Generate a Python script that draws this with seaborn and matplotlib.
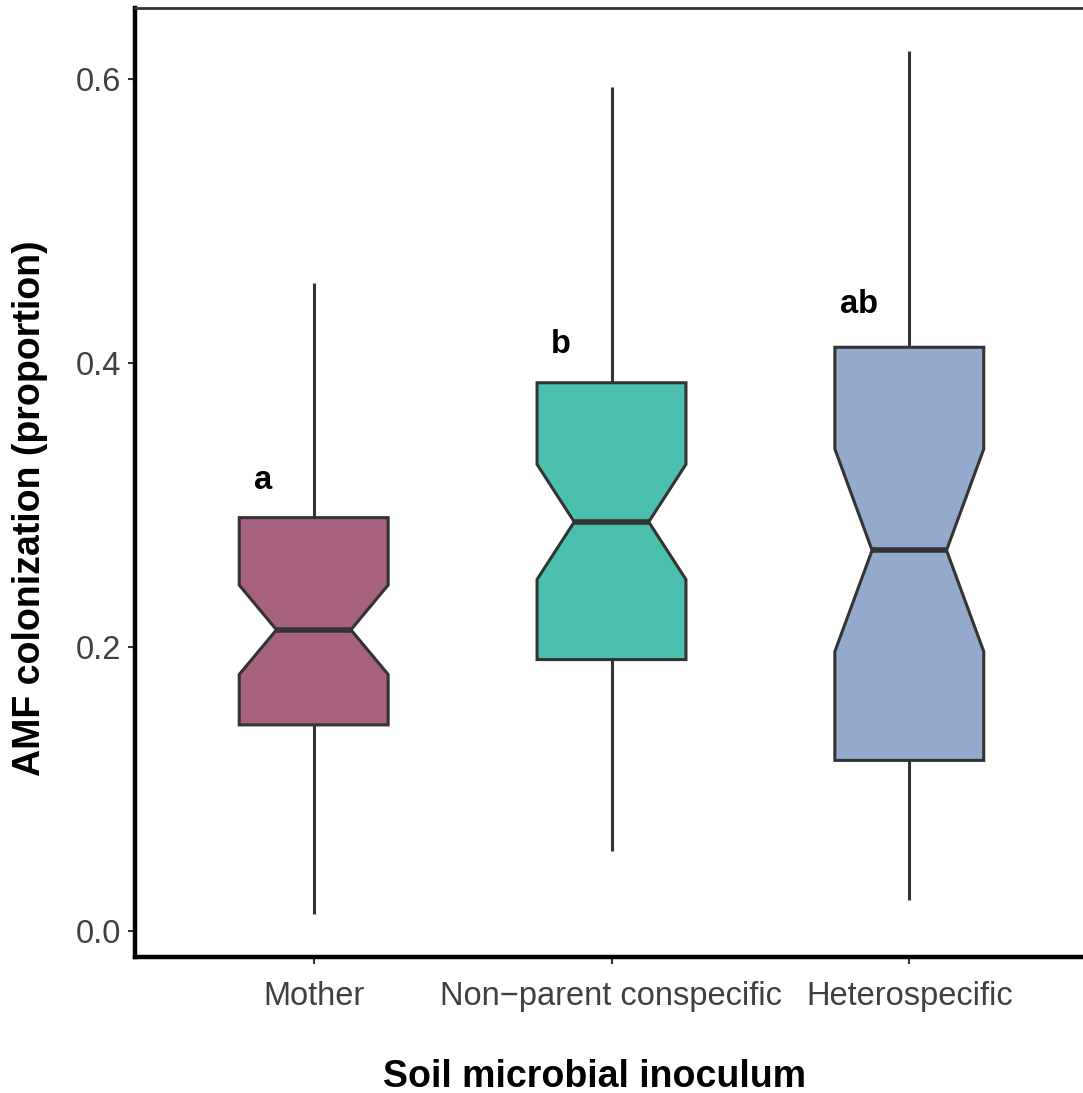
import numpy as np
import pandas as pd
import matplotlib
matplotlib.use("Agg")
import matplotlib.pyplot as plt
import seaborn as sns

# Five-number summaries of AMF colonization per inoculum, plus sample sizes
groups = ["Mother", "Non\u2212parent conspecific", "Heterospecific"]
whisker_low = [0.012, 0.056, 0.022]
q1 = [0.145, 0.191, 0.120]
median = [0.212, 0.288, 0.268]
q3 = [0.291, 0.386, 0.411]
whisker_high = [0.456, 0.594, 0.620]
n_obs = [53, 57, 41]
colors = ["#A6617E", "#4BBFAD", "#93AACD"]

# Significance letters
letters = ["a", "b", "ab"]
letter_y = [0.317, 0.413, 0.441]

# Build observation tables whose quartiles reproduce the summaries
rows = []
for g, lo, a, m, b, hi, n in zip(groups, whisker_low, q1, median, q3, whisker_high, n_obs):
    k = (n - 1) // 4
    vals = np.repeat([lo, a, m, b, hi], [1, k, k, k, k])
    rows.append(pd.DataFrame({"inoculum": g, "colonization": vals}))
df = pd.concat(rows, ignore_index=True)

sns.set_theme(style="white")
plt.rcParams["font.family"] = ["Liberation Sans", "DejaVu Sans"]

fig = plt.figure(figsize=(10.83, 10.93), dpi=100)
ax = fig.add_axes([135 / 1083, 1 - 957 / 1093, (1088 - 135) / 1083, (957 - 8) / 1093])

sns.boxplot(
    data=df, x="inoculum", y="colonization", hue="inoculum",
    order=groups, hue_order=groups, palette=colors, saturation=1,
    width=0.5, notch=True, showcaps=False, whis=1.5,
    linecolor="#333333", linewidth=2.2, legend=False, ax=ax,
    medianprops={"linewidth": 4.0, "color": "#333333"},
    flierprops={"marker": "o", "markersize": 4},
)

for i, (lab, yy) in enumerate(zip(letters, letter_y)):
    ax.text(i - 0.17, yy, lab, ha="center", va="center",
            fontsize=23.5, fontweight="bold", color="black")

ax.set_xlim(-0.6, 2.6)
ax.set_ylim(-0.0185, 0.650)
ax.set_yticks([0.0, 0.2, 0.4, 0.6])
ax.set_yticklabels(["0.0", "0.2", "0.4", "0.6"])

ax.tick_params(axis="both", which="major", length=5, width=1.5, color="#333333",
               labelsize=23.5, labelcolor="#404040", direction="out",
               left=True, bottom=True)
ax.tick_params(axis="x", pad=12.5)
ax.tick_params(axis="y", pad=5)

for side in ["left", "bottom"]:
    ax.spines[side].set_color("black")
    ax.spines[side].set_linewidth(3.2)
ax.spines["top"].set_color("#333333")
ax.spines["top"].set_linewidth(2.0)
ax.spines["right"].set_visible(False)

ax.set_xlabel("Soil microbial inoculum", fontsize=27, fontweight="bold",
              color="black", ha="center", va="center")
ax.set_ylabel("AMF colonization (proportion)", fontsize=27, fontweight="bold",
              color="black", ha="center", va="center")
ax.xaxis.set_label_coords((595 - 135) / 953, (957 - 1077) / 949)
ax.yaxis.set_label_coords((30 - 135) / 953, (957 - 508) / 949)

fig.savefig("out.png", dpi=100)
